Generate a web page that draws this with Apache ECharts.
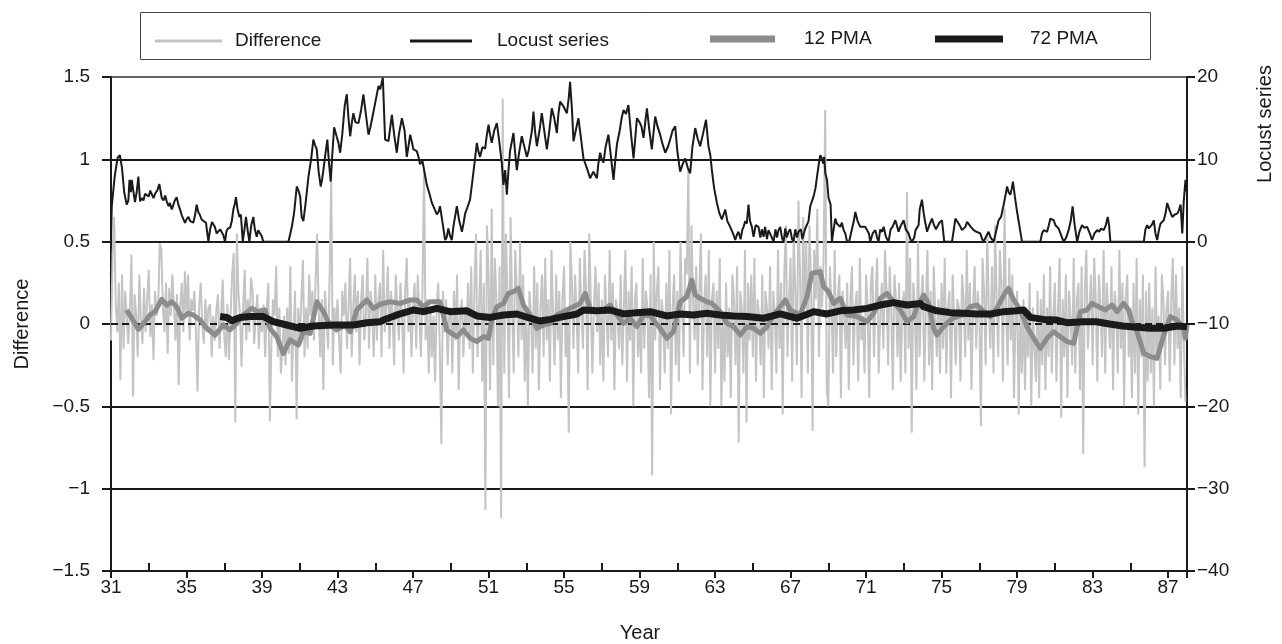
<!DOCTYPE html>
<html><head><meta charset="utf-8">
<script src="https://cdn.jsdelivr.net/npm/echarts@6/dist/echarts.min.js"></script>
<style>html,body{margin:0;padding:0;background:#fff}#c{width:1282px;height:644px}</style>
</head><body><div id="c"></div>
<script>
// ---------- DATA ----------
const startYear = 31;           // first month of the Difference series (Jan 1931)
const endYear = 88;
// Difference: monthly values, one row per year (1931 ... 1987)
const diffRows = [
 [-0.10,0.42,0.65,0.12,-0.05,0.25,-0.34,0.30,-0.15,0.20,0.05,-0.12],
 [0.08,0.42,-0.44,0.18,0.05,-0.20,0.30,0.02,-0.12,0.22,-0.05,0.15],
 [0.33,-0.08,0.12,-0.22,0.20,0.05,0.10,0.49,0.45,0.10,-0.05,0.25],
 [-0.18,0.22,0.05,0.30,0.10,-0.10,0.18,-0.37,0.10,0.25,-0.05,0.32],
 [0.05,0.30,-0.10,0.15,0.08,0.20,-0.05,-0.41,0.10,0.25,0.00,-0.12],
 [0.15,-0.05,0.10,0.12,-0.20,0.05,-0.10,0.08,0.18,-0.15,0.05,0.27],
 [-0.08,-0.20,0.12,-0.22,0.05,0.30,0.43,-0.60,0.55,0.20,0.05,-0.26],
 [0.10,0.33,-0.10,0.15,-0.05,0.28,0.20,-0.12,0.05,0.18,-0.15,0.10],
 [-0.05,0.12,-0.20,0.08,0.25,-0.59,-0.10,0.15,0.05,0.35,-0.20,0.10],
 [-0.30,-0.15,0.05,-0.25,0.10,-0.18,0.35,-0.35,-0.05,0.20,-0.58,0.10],
 [-0.10,0.15,0.39,-0.20,0.10,-0.15,0.30,0.05,0.20,-0.10,0.25,0.55],
 [0.10,-0.20,0.15,-0.40,0.20,0.05,-0.15,0.30,0.87,-0.25,0.10,-0.05],
 [0.15,-0.10,-0.30,0.20,0.05,0.25,-0.15,0.10,0.40,-0.20,0.10,0.30],
 [-0.05,0.20,-0.25,0.15,0.30,-0.10,0.05,0.40,-0.15,0.20,0.10,-0.20],
 [0.30,-0.10,0.15,0.25,-0.20,0.45,-0.05,0.10,0.35,-0.15,0.20,0.05],
 [-0.25,0.30,0.10,-0.10,0.25,0.05,-0.30,0.20,0.40,-0.05,0.15,-0.20],
 [0.10,0.25,-0.15,0.30,0.05,-0.20,0.20,0.95,-0.10,0.15,-0.30,0.10],
 [-0.20,0.05,-0.35,0.10,0.25,-0.15,-0.73,0.20,-0.05,0.15,-0.25,0.05],
 [0.10,-0.30,0.20,-0.10,0.30,-0.40,0.05,0.15,-0.20,0.10,-0.05,0.25],
 [-0.15,0.35,-0.30,0.20,0.55,-0.20,0.10,0.45,-0.35,0.25,-1.13,0.60],
 [0.30,-0.40,0.70,-0.25,0.40,0.15,-0.50,0.35,-1.18,1.37,-0.30,0.55],
 [0.20,-0.45,0.65,0.10,-0.30,0.45,0.20,-0.20,0.50,-0.10,0.30,-0.35],
 [0.10,-0.50,0.20,0.05,-0.30,0.35,-0.15,0.25,-0.40,0.10,0.30,-0.20],
 [0.40,-0.10,0.15,-0.35,0.45,0.05,-0.25,0.30,-0.10,0.20,-0.45,0.15],
 [0.35,-0.20,0.10,-0.66,0.50,0.25,-0.15,0.30,0.05,-0.30,0.40,0.10],
 [-0.15,0.45,0.20,-0.40,0.55,0.15,-0.30,0.10,0.35,-0.05,0.25,-0.25],
 [0.15,-0.35,0.30,0.05,-0.20,0.45,-0.10,0.25,-0.40,0.15,0.05,-0.15],
 [0.30,-0.25,0.10,0.45,-0.35,0.20,-0.10,0.35,-0.50,0.15,0.25,-0.20],
 [0.05,-0.30,0.40,-0.15,0.20,0.10,-0.45,0.30,-0.92,0.50,-0.10,0.20],
 [0.35,-0.40,0.15,0.05,-0.30,0.25,-0.15,0.45,-0.55,0.10,0.30,-0.25],
 [0.20,-0.35,0.50,0.10,-0.20,0.40,0.30,0.95,-0.30,0.60,0.15,-0.10],
 [0.35,-0.25,0.20,0.55,-0.40,0.10,0.30,-0.20,0.45,-0.50,0.15,0.25],
 [-0.30,0.20,-0.15,0.40,-0.50,0.05,-0.35,0.25,-0.20,0.10,-0.45,0.30],
 [0.15,-0.25,0.35,-0.72,0.20,0.10,-0.30,0.45,-0.60,0.25,-0.10,0.30],
 [-0.20,0.40,-0.35,0.15,0.05,-0.25,0.30,-0.45,0.20,0.10,-0.15,0.35],
 [-0.40,0.20,0.05,-0.30,0.45,-0.15,0.25,-0.55,0.30,0.60,-0.20,0.15],
 [0.40,-0.35,0.55,0.20,-0.25,0.75,0.30,-0.45,0.65,0.10,0.50,-0.30],
 [0.60,0.25,-0.65,0.45,0.15,0.70,-0.20,0.35,0.10,0.40,1.30,-0.40],
 [-0.50,0.35,0.10,-0.30,0.45,-0.20,0.15,0.30,-0.45,0.20,0.05,-0.15],
 [0.25,-0.40,0.15,0.35,-0.25,0.10,0.20,-0.35,0.40,-0.10,0.05,-0.30],
 [0.30,0.10,-0.45,0.25,0.35,-0.20,0.15,0.40,-0.30,0.05,0.25,-0.15],
 [0.45,0.20,-0.25,0.35,0.10,-0.40,0.30,0.15,-0.20,0.25,-0.35,0.10],
 [0.20,-0.30,0.80,-0.15,0.40,-0.66,0.25,0.10,-0.40,0.50,-0.20,0.15],
 [0.30,-0.35,0.10,0.45,-0.25,0.20,-0.40,0.35,0.05,-0.20,0.15,-0.30],
 [0.25,-0.15,0.40,-0.30,0.10,0.20,-0.45,0.30,0.05,-0.25,0.15,0.10],
 [-0.35,0.30,0.15,-0.20,0.45,-0.10,0.25,-0.40,0.10,0.35,-0.15,0.20],
 [0.05,-0.62,0.40,0.20,-0.25,0.55,0.10,-0.15,0.35,-0.30,0.60,0.15],
 [-0.20,0.45,0.25,-0.35,0.70,0.10,-0.25,0.40,-0.10,0.30,-0.45,0.05],
 [0.20,-0.55,0.10,-0.30,0.15,-0.40,0.05,-0.20,0.25,-0.50,0.10,-0.15],
 [-0.35,0.20,-0.45,0.15,-0.25,0.30,-0.40,0.10,-0.20,0.35,-0.30,0.05],
 [0.25,-0.35,0.10,0.40,-0.57,0.15,-0.20,0.30,-0.45,0.20,0.05,-0.25],
 [0.40,-0.30,0.15,0.25,-0.40,0.35,-0.79,0.20,0.45,-0.15,0.10,0.30],
 [-0.25,0.40,0.15,-0.35,0.30,0.10,-0.20,0.45,-0.30,0.25,0.05,-0.15],
 [0.35,-0.40,0.20,0.10,-0.30,0.45,-0.15,0.25,-0.50,0.15,0.30,-0.20],
 [0.10,-0.45,0.25,-0.30,0.40,-0.55,0.15,-0.20,0.30,-0.87,0.20,-0.35],
 [0.25,-0.30,0.10,-0.50,0.35,-0.20,0.05,-0.40,0.30,0.15,-0.25,0.10],
 [0.20,-0.35,0.15,0.40,-0.25,0.30,-0.15,0.10,-0.45,0.35,-0.10,-0.47]
];
// Locust series: [year, value] (right axis)
const locustPoints = [[31.0,0.3],[31.04,4.3],[31.1,4.4],[31.2,8.0],[31.35,10.2],[31.47,10.5],[31.58,9.0],[31.7,6.0],[31.83,4.5],[31.92,5.0],[31.98,7.5],[32.05,6.0],[32.1,7.5],[32.18,6.2],[32.27,4.8],[32.36,6.0],[32.45,7.9],[32.54,4.9],[32.62,5.3],[32.72,5.0],[32.8,5.8],[32.89,5.9],[33.0,5.5],[33.08,6.2],[33.16,6.3],[33.25,5.3],[33.35,5.9],[33.45,6.2],[33.56,7.0],[33.69,5.3],[33.78,5.0],[33.87,5.6],[33.95,4.9],[34.05,4.3],[34.12,4.7],[34.22,3.9],[34.3,4.0],[34.38,5.0],[34.48,5.4],[34.57,4.5],[34.66,3.9],[34.75,3.2],[34.84,2.7],[34.92,2.3],[35.0,2.7],[35.1,3.0],[35.2,2.5],[35.28,2.4],[35.36,2.3],[35.45,3.2],[35.54,4.5],[35.62,3.6],[35.7,3.3],[35.8,2.7],[35.9,2.5],[36.03,2.3],[36.1,2.5],[36.16,0],[36.25,1.5],[36.35,2.4],[36.42,2.3],[36.5,1.8],[36.6,1.0],[36.69,1.0],[36.78,1.5],[36.87,1.5],[36.95,0.8],[37.04,0],[37.12,1.3],[37.2,1.6],[37.31,1.7],[37.4,2.5],[37.48,3.9],[37.56,4.6],[37.62,5.4],[37.7,4.0],[37.8,3.0],[37.88,3.3],[37.98,0],[38.07,1.5],[38.15,3.0],[38.25,1.2],[38.33,0],[38.43,2.0],[38.54,3.0],[38.62,1.5],[38.72,0.6],[38.8,1.4],[38.9,1.5],[38.98,0.7],[39.07,0],[40.4,0],[40.5,1.0],[40.58,1.8],[40.7,3.5],[40.84,6.7],[40.93,6.2],[41.02,5.5],[41.1,3.0],[41.19,2.5],[41.3,4.5],[41.46,7.9],[41.6,10.0],[41.72,12.4],[41.8,11.8],[41.9,11.2],[42.0,8.5],[42.11,6.7],[42.18,7.5],[42.25,8.7],[42.35,10.5],[42.46,12.4],[42.55,9.5],[42.64,7.3],[42.72,10.5],[42.82,13.9],[42.95,12.8],[43.05,12.0],[43.14,10.8],[43.25,13.0],[43.38,16.5],[43.49,17.9],[43.58,15.0],[43.67,12.8],[43.76,14.5],[43.84,15.6],[43.95,14.5],[44.11,14.4],[44.25,16.0],[44.37,17.9],[44.5,15.5],[44.64,13.0],[44.73,13.8],[44.82,14.8],[44.92,15.0],[45.05,17.5],[45.17,18.9],[45.26,18.5],[45.4,19.9],[45.52,12.4],[45.6,12.6],[45.7,12.2],[45.8,14.0],[45.88,15.4],[46.0,13.0],[46.14,10.8],[46.25,13.0],[46.41,15.0],[46.55,13.5],[46.67,10.3],[46.75,11.5],[46.85,13.0],[46.95,12.0],[47.02,11.2],[47.1,11.4],[47.2,11.0],[47.3,10.2],[47.37,9.4],[47.5,9.8],[47.6,10.0],[47.73,6.9],[47.85,6.0],[48.0,4.7],[48.1,4.2],[48.26,3.3],[48.35,3.6],[48.43,4.3],[48.55,2.5],[48.7,0.2],[48.78,0.5],[48.87,1.6],[48.95,0.8],[49.05,0.2],[49.15,2.0],[49.32,4.3],[49.45,2.5],[49.59,1.2],[49.68,2.3],[49.76,3.4],[49.9,4.3],[50.02,5.1],[50.15,7.5],[50.28,10.0],[50.38,12.0],[50.46,11.0],[50.55,10.3],[50.68,11.5],[50.82,11.3],[50.9,12.8],[51.0,14.2],[51.08,13.0],[51.17,12.0],[51.3,13.5],[51.44,14.4],[51.55,12.5],[51.7,9.6],[51.79,6.9],[51.88,8.7],[51.97,5.7],[52.05,8.5],[52.14,11.0],[52.22,12.0],[52.32,13.2],[52.4,11.0],[52.5,8.7],[52.6,10.5],[52.76,12.8],[52.9,11.5],[53.03,10.3],[53.12,11.0],[53.2,11.2],[53.3,13.5],[53.38,15.8],[53.46,13.5],[53.56,11.6],[53.7,13.5],[53.82,15.6],[53.95,13.5],[54.09,11.2],[54.22,13.5],[54.35,16.2],[54.48,15.0],[54.62,13.2],[54.7,15.5],[54.79,17.0],[54.95,16.5],[55.15,15.6],[55.25,17.5],[55.32,19.4],[55.42,16.0],[55.5,12.2],[55.62,13.5],[55.76,15.0],[55.9,12.5],[56.03,10.1],[56.2,9.0],[56.38,7.7],[56.55,8.5],[56.74,7.7],[56.82,9.5],[56.91,10.8],[57.0,10.0],[57.09,9.6],[57.2,11.5],[57.35,13.0],[57.5,10.0],[57.62,7.5],[57.7,9.5],[57.8,11.8],[57.95,13.5],[58.05,15.0],[58.15,16.0],[58.28,15.5],[58.41,16.6],[58.55,13.0],[58.68,10.1],[58.77,12.5],[58.86,15.0],[59.0,14.5],[59.1,14.0],[59.21,12.6],[59.3,14.5],[59.39,16.2],[59.52,13.5],[59.65,11.2],[59.75,13.5],[59.83,15.2],[59.95,14.0],[60.09,13.0],[60.2,12.0],[60.36,10.8],[60.5,11.5],[60.62,12.4],[60.75,13.5],[60.89,14.0],[61.0,11.0],[61.15,8.5],[61.3,9.5],[61.42,10.1],[61.55,9.0],[61.68,8.3],[61.8,11.5],[61.95,13.8],[62.08,12.5],[62.21,11.6],[62.35,13.0],[62.52,14.8],[62.65,11.6],[62.75,10.5],[62.83,8.7],[62.95,6.5],[63.1,4.7],[63.22,3.5],[63.36,2.7],[63.45,3.3],[63.54,3.9],[63.65,2.5],[63.8,1.8],[63.95,1.0],[64.07,0.2],[64.15,0.8],[64.24,1.2],[64.35,0.3],[64.45,1.5],[64.51,1.8],[64.6,2.5],[64.68,2.2],[64.77,4.5],[64.85,2.5],[64.95,1.8],[65.04,0.6],[65.15,2.0],[65.3,1.8],[65.4,0.5],[65.48,1.5],[65.57,0.6],[65.65,1.8],[65.75,0.3],[65.83,1.4],[65.95,0.8],[66.1,0],[66.2,1.5],[66.28,0.5],[66.36,1.4],[66.45,1.8],[66.55,0.4],[66.63,0],[66.72,1.6],[66.8,0.5],[66.89,1.2],[66.98,1.5],[67.08,0.3],[67.16,0],[67.25,1.5],[67.34,0.5],[67.42,1.2],[67.55,1.5],[67.62,0.3],[67.69,0.4],[67.78,1.6],[67.87,1.8],[67.95,2.5],[68.04,4.3],[68.13,4.5],[68.22,5.5],[68.32,6.5],[68.4,7.9],[68.5,9.5],[68.57,10.5],[68.65,10.2],[68.72,9.5],[68.78,10.3],[68.84,8.3],[68.93,7.5],[69.01,5.3],[69.12,4.5],[69.19,0],[69.28,1.5],[69.37,2.8],[69.45,2.2],[69.55,2.0],[69.63,1.8],[69.72,2.3],[69.81,1.4],[69.9,1.0],[69.99,0],[70.1,0],[70.25,1.5],[70.35,2.5],[70.43,3.6],[70.55,2.5],[70.69,1.8],[70.8,1.8],[70.95,1.8],[71.05,1.8],[71.15,1.0],[71.22,0],[71.35,1.0],[71.49,1.4],[71.58,0.5],[71.66,0],[71.75,1.5],[71.85,1.2],[71.93,1.8],[72.05,0.6],[72.19,0],[72.3,1.5],[72.4,1.8],[72.55,2.6],[72.65,1.8],[72.72,1.2],[72.81,1.8],[72.9,2.2],[72.99,2.6],[73.1,1.5],[73.25,1.0],[73.35,0.3],[73.43,0],[73.55,0.5],[73.62,1.4],[73.7,1.4],[73.78,2.0],[73.84,3.9],[73.96,5.1],[74.05,3.5],[74.12,2.5],[74.23,1.2],[74.35,2.0],[74.49,2.8],[74.6,2.0],[74.7,1.5],[74.76,1.4],[74.88,2.3],[75.02,2.6],[75.14,0],[75.55,0],[75.65,1.5],[75.73,2.8],[75.82,2.5],[75.9,2.6],[76.0,1.8],[76.08,1.4],[76.18,1.6],[76.26,1.8],[76.35,2.4],[76.43,2.6],[76.55,1.8],[76.62,1.6],[76.7,1.4],[76.85,1.2],[76.95,1.3],[77.05,1.0],[77.15,0.3],[77.22,0],[77.32,0],[77.4,0.8],[77.49,1.2],[77.6,0.5],[77.68,0.4],[77.76,0],[77.88,1.2],[78.02,2.6],[78.15,3.0],[78.29,4.5],[78.38,5.6],[78.47,6.7],[78.55,6.0],[78.64,5.7],[78.72,6.5],[78.78,7.3],[78.88,5.5],[79.0,3.6],[79.13,1.8],[79.26,0],[80.23,0],[80.32,1.0],[80.41,1.4],[80.5,1.5],[80.59,1.2],[80.68,2.0],[80.76,2.8],[80.85,2.7],[80.94,2.6],[81.03,2.0],[81.12,1.8],[81.2,1.6],[81.29,1.4],[81.38,0.5],[81.47,0],[81.6,0.5],[81.73,1.4],[81.84,2.5],[81.94,4.3],[82.05,2.0],[82.18,0],[82.3,1.2],[82.44,2.0],[82.55,1.7],[82.63,1.9],[82.71,1.8],[82.85,1.0],[82.97,0.2],[83.1,1.0],[83.24,1.4],[83.35,1.2],[83.45,1.6],[83.59,1.4],[83.7,2.0],[83.8,3.0],[83.87,2.0],[83.94,0],[85.71,0],[85.8,1.5],[85.89,2.0],[85.98,1.6],[86.06,1.8],[86.15,2.1],[86.24,2.6],[86.33,1.0],[86.42,0.2],[86.52,1.5],[86.6,2.2],[86.68,2.3],[86.77,2.6],[86.87,3.5],[86.95,4.7],[87.08,3.8],[87.22,3.0],[87.35,3.3],[87.48,3.4],[87.57,3.8],[87.66,4.5],[87.75,1.0],[87.83,5.0],[87.92,7.5],[88.0,5.9]];
// 12 PMA: [year, value]
const pma12Points = [[31.83,0.085],[32.1,0.035],[32.45,-0.032],[32.8,0.014],[33.07,0.055],[33.33,0.075],[33.69,0.15],[33.95,0.115],[34.22,0.135],[34.48,0.105],[34.75,0.035],[35.1,0.065],[35.36,0.055],[35.72,0.024],[36.07,-0.026],[36.51,-0.067],[36.95,-0.006],[37.3,-0.036],[37.66,0.004],[38.01,0.055],[38.45,0.095],[38.8,0.075],[39.16,0.085],[39.42,-0.026],[39.78,-0.077],[40.13,-0.178],[40.48,-0.097],[40.93,-0.128],[41.19,-0.047],[41.55,-0.057],[41.9,0.135],[42.25,0.075],[42.6,-0.006],[42.96,-0.036],[43.4,-0.006],[43.67,-0.047],[44.02,0.085],[44.55,0.146],[44.9,0.095],[45.26,0.12],[45.8,0.135],[46.33,0.125],[46.85,0.146],[47.2,0.146],[47.55,0.105],[47.9,0.135],[48.43,0.135],[48.79,-0.036],[49.05,-0.057],[49.32,-0.077],[49.67,-0.036],[50.02,-0.087],[50.38,-0.107],[50.73,-0.077],[51.0,-0.087],[51.17,0.024],[51.44,0.105],[51.79,0.125],[52.05,0.186],[52.32,0.196],[52.58,0.216],[52.85,0.115],[53.2,0.055],[53.56,-0.026],[53.91,-0.006],[54.27,0.004],[54.62,0.055],[54.97,0.075],[55.32,0.095],[55.85,0.125],[56.12,0.186],[56.38,0.095],[56.74,0.075],[57.09,0.085],[57.44,0.115],[57.8,0.055],[58.15,0.004],[58.5,0.035],[58.86,-0.016],[59.21,0.055],[59.56,0.05],[60.09,-0.026],[60.44,-0.087],[60.8,-0.047],[61.15,0.135],[61.5,0.166],[61.77,0.267],[61.95,0.176],[62.21,0.156],[62.56,0.135],[62.83,0.125],[63.27,0.075],[63.62,0.004],[63.98,-0.016],[64.33,-0.067],[64.69,-0.016],[65.04,-0.026],[65.39,-0.057],[65.75,-0.016],[66.1,0.055],[66.45,0.105],[66.72,0.146],[66.98,0.085],[67.51,0.055],[67.87,0.166],[68.13,0.308],[68.57,0.318],[68.75,0.227],[69.01,0.196],[69.28,0.125],[69.63,0.156],[69.99,0.055],[70.52,0.045],[71.05,0.014],[71.4,0.065],[71.75,0.156],[72.11,0.186],[72.46,0.135],[72.81,0.085],[73.17,0.014],[73.52,0.045],[73.69,0.1],[74.05,0.176],[74.31,0.125],[74.58,-0.026],[74.75,-0.067],[75.11,-0.016],[75.46,0.024],[75.81,0.045],[76.17,0.055],[76.52,0.105],[76.87,0.115],[77.23,0.075],[77.58,0.045],[77.93,0.095],[78.29,0.176],[78.55,0.216],[78.82,0.146],[79.17,0.085],[79.52,-0.016],[79.88,-0.087],[80.23,-0.148],[80.58,-0.087],[80.94,-0.047],[81.29,-0.077],[81.64,-0.107],[82.0,-0.117],[82.35,0.075],[82.7,0.085],[82.97,0.125],[83.32,0.105],[83.67,0.085],[84.03,0.115],[84.29,0.075],[84.65,0.125],[84.91,0.085],[85.09,0.014],[85.35,-0.047],[85.71,-0.178],[86.06,-0.198],[86.41,-0.208],[86.77,-0.067],[87.12,0.045],[87.47,0.024],[87.83,-0.026],[87.91,-0.087],[88.0,-0.006]];
// 72 PMA: [year, value]
const pma72Points = [[36.78,0.045],[37.14,0.04],[37.39,0.02],[37.84,0.04],[38.37,0.045],[39.07,0.045],[39.6,0.014],[40.31,-0.006],[41.02,-0.026],[41.72,-0.012],[42.78,-0.006],[43.84,-0.006],[44.55,0.008],[45.26,0.014],[45.43,0.024],[46.14,0.055],[47.02,0.085],[47.55,0.075],[48.26,0.095],[48.96,0.075],[49.85,0.08],[50.38,0.049],[51.08,0.04],[51.79,0.055],[52.5,0.061],[53.2,0.035],[53.73,0.018],[54.27,0.028],[54.97,0.045],[55.68,0.061],[56.03,0.085],[56.74,0.08],[57.44,0.085],[58.15,0.061],[58.86,0.069],[59.56,0.075],[60.44,0.049],[61.15,0.061],[61.86,0.055],[62.56,0.065],[63.27,0.055],[63.98,0.049],[64.69,0.045],[65.57,0.035],[66.45,0.061],[67.34,0.035],[68.22,0.075],[68.93,0.061],[69.63,0.08],[70.34,0.085],[71.05,0.095],[71.75,0.115],[72.46,0.13],[73.17,0.115],[73.88,0.125],[74.05,0.105],[74.75,0.08],[75.46,0.069],[76.17,0.065],[76.87,0.061],[77.58,0.061],[78.29,0.075],[79.0,0.08],[79.35,0.085],[79.7,0.04],[80.4,0.028],[81.1,0.024],[81.64,0.008],[82.5,0.014],[83.2,0.014],[83.9,0.0],[84.6,-0.012],[85.35,-0.02],[86.06,-0.026],[86.77,-0.026],[87.47,-0.012],[88.0,-0.016]];
const seriesNames = ['Difference','Locust series','12 PMA','72 PMA'];
const xAxisTitle = 'Year';
const leftAxisTitle = 'Difference';
const rightAxisTitle = 'Locust series';

// ---------- CHART ----------
const FONT = '"Liberation Sans", Arial, Helvetica, sans-serif';
const INK = '#1a1a1a';
const minus = v => String(v).replace('-', '\u2212');
const diffData = [];
diffRows.forEach((row, r) => row.forEach((v, m) => diffData.push([startYear + r + m / 12, v])));

// plot area
const G = {left: 111, right: 95, top: 77, bottom: 73};
const plotW = 1282 - G.left - G.right;
const span = endYear - startYear;
// second (tick-only) grid starting two years later, for the upward minor ticks
const G2left = G.left + plotW * 2 / span;

const chart = echarts.init(document.getElementById('c'), null, {renderer: 'canvas'});
const legendBase = (name, left, w, h, color, pad) => ({
  data: [name], left: left, top: 33 - h / 2, padding: 0, itemWidth: w, itemHeight: h,
  icon: 'rect', itemStyle: {color: color}, selectedMode: false,
  textStyle: {fontFamily: FONT, fontSize: 19, color: INK, padding: [0, 0, 0, pad]}
});
const legends = [
  legendBase(seriesNames[0], 155, 67, 3, '#c4c4c4', 8),
  legendBase(seriesNames[1], 410, 62, 3, INK, 20),
  legendBase(seriesNames[2], 710, 65, 7, '#8c8c8c', 24),
  legendBase(seriesNames[3], 935, 68, 7, INK, 22)
];

const option = {
  animation: false,
  textStyle: {fontFamily: FONT},
  legend: legends,
  grid: [
    {left: G.left, right: G.right, top: G.top, bottom: G.bottom},
    {left: G2left, right: G.right, top: G.top, bottom: G.bottom}
  ],
  xAxis: [
    {type: 'value', gridIndex: 0, min: startYear, max: endYear, show: false},
    {type: 'value', gridIndex: 0, min: 0, max: span, interval: 4, position: 'bottom',
      axisLine: {onZero: false, lineStyle: {color: INK, width: 2}},
      axisTick: {length: 7, lineStyle: {color: INK, width: 2}},
      axisLabel: {margin: 7, fontSize: 19, color: INK, fontFamily: FONT,
        formatter: v => (v % 4 === 0 && v <= span - 1) ? String(v + startYear) : ''},
      splitLine: {show: false}},
    {type: 'value', gridIndex: 1, min: 0, max: span - 2, interval: 4, position: 'bottom',
      axisLine: {show: false, onZero: false},
      axisTick: {show: true, inside: true, length: 8, lineStyle: {color: INK, width: 2}},
      axisLabel: {show: false}, splitLine: {show: false}}
  ],
  yAxis: [
    {type: 'value', gridIndex: 0, min: -1.5, max: 1.5, interval: 0.5, position: 'left',
      axisLine: {show: true, onZero: false, lineStyle: {color: INK, width: 2}},
      axisTick: {show: true, length: 9, lineStyle: {color: INK, width: 2}},
      axisLabel: {margin: 21, fontSize: 19, color: INK, fontFamily: FONT, formatter: minus},
      splitLine: {show: true, lineStyle: {width: 2,
        color: [INK, INK, INK, 'rgba(0,0,0,0)', INK, INK, '#666']}}},
    {type: 'value', gridIndex: 0, min: -40, max: 20, interval: 10, position: 'right',
      axisLine: {show: true, onZero: false, lineStyle: {color: INK, width: 2}},
      axisTick: {show: true, length: 8, lineStyle: {color: INK, width: 2}},
      axisLabel: {margin: 10, fontSize: 19, color: INK, fontFamily: FONT, formatter: minus},
      splitLine: {show: false}},
    {type: 'value', gridIndex: 1, min: 0, max: 1, show: false}
  ],
  graphic: [
    {type: 'rect', left: 138, top: 10, z: 0, silent: true,
      shape: {width: 1010, height: 47}, style: {fill: 'none', stroke: '#444', lineWidth: 1}},
    {type: 'text', x: 22, y: 324, rotation: Math.PI / 2, silent: true,
      style: {text: leftAxisTitle, fontFamily: FONT, fontSize: 20, fill: INK, align: 'center', verticalAlign: 'middle'}},
    {type: 'text', x: 1265, y: 124, rotation: Math.PI / 2, silent: true,
      style: {text: rightAxisTitle, fontFamily: FONT, fontSize: 20, fill: INK, align: 'center', verticalAlign: 'middle'}},
    {type: 'text', x: 640, y: 633, silent: true,
      style: {text: xAxisTitle, fontFamily: FONT, fontSize: 20, fill: INK, align: 'center', verticalAlign: 'middle'}}
  ],
  series: [
    {name: seriesNames[0], type: 'line', data: diffData, xAxisIndex: 0, yAxisIndex: 0,
      symbol: 'none', z: 2, lineStyle: {color: '#c4c4c4', width: 2}, itemStyle: {color: '#c4c4c4'},
      markLine: {silent: true, symbol: ['none', 'none'], label: {show: false}, z: 3,
        lineStyle: {color: INK, width: 2, type: [7, 4]}, data: [{yAxis: 0}]}},
    {name: seriesNames[1], type: 'line', data: locustPoints, xAxisIndex: 0, yAxisIndex: 1,
      symbol: 'none', z: 4, lineStyle: {color: INK, width: 2}, itemStyle: {color: INK}},
    {name: seriesNames[2], type: 'line', data: pma12Points, xAxisIndex: 0, yAxisIndex: 0,
      symbol: 'none', z: 5, lineStyle: {color: '#8c8c8c', width: 5, join: 'round'}, itemStyle: {color: '#8c8c8c'}},
    {name: seriesNames[3], type: 'line', data: pma72Points, xAxisIndex: 0, yAxisIndex: 0,
      symbol: 'none', z: 6, lineStyle: {color: INK, width: 7, join: 'round'}, itemStyle: {color: INK}}
  ]
};
chart.setOption(option);
</script>
</body></html>
